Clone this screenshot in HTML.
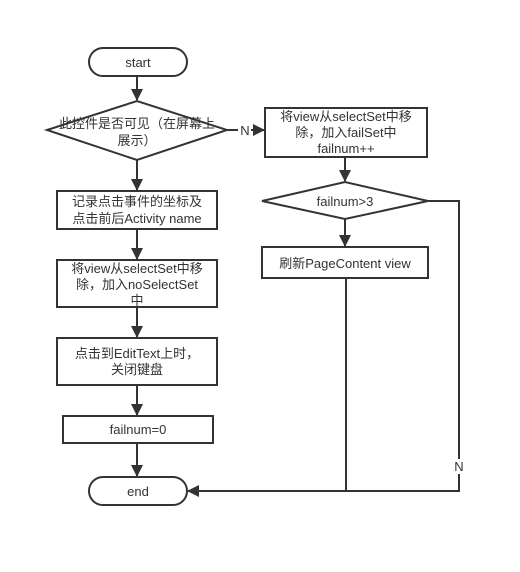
<!DOCTYPE html>
<html><head><meta charset="utf-8"><style>
body{margin:0;background:#fff}
svg text{font-family:"Liberation Sans","Noto Sans CJK SC",sans-serif;font-size:13px;fill:#333;text-anchor:middle}
</style></head><body>
<svg width="520" height="567" xmlns="http://www.w3.org/2000/svg">
<defs><marker id="a" markerWidth="12" markerHeight="12" refX="11" refY="6" orient="auto" markerUnits="userSpaceOnUse"><path d="M0,0 L12,6 L0,12 z" fill="#333"/></marker></defs>
<g stroke="#333" stroke-width="2" fill="#fff">
<rect x="89" y="48" width="98" height="28" rx="14"/>
<polygon points="47,130 137,101 227,130 137,160"/>
<rect x="57" y="191" width="160" height="38"/>
<rect x="57" y="260" width="160" height="47"/>
<rect x="57" y="338" width="160" height="47"/>
<rect x="63" y="416" width="150" height="27"/>
<rect x="89" y="477" width="98" height="28" rx="14"/>
<rect x="265" y="108" width="162" height="49"/>
<polygon points="262,201 345,182 428,201 345,219"/>
<rect x="262" y="247" width="166" height="31"/>
</g>
<g stroke="#333" stroke-width="2" fill="none" marker-end="url(#a)">
<line x1="137" y1="76" x2="137" y2="100"/>
<line x1="137" y1="160" x2="137" y2="190"/>
<line x1="137" y1="229" x2="137" y2="259"/>
<line x1="137" y1="307" x2="137" y2="337"/>
<line x1="137" y1="385" x2="137" y2="415"/>
<line x1="137" y1="443" x2="137" y2="476"/>
<line x1="345" y1="157" x2="345" y2="181"/>
<line x1="345" y1="219" x2="345" y2="246"/>
<polyline points="227,130 264,130"/>
<polyline points="428,201 459,201 459,491 188,491"/>
<polyline points="346,278 346,491" marker-end="none"/>
</g>
<rect x="238" y="123" width="13" height="15" fill="#fff"/>
<text x="245" y="135">N</text>
<rect x="452" y="459" width="14" height="15" fill="#fff"/>
<text x="459" y="471">N</text>
<text x="138" y="67">start</text>
<text x="137" y="128">此控件是否可见（在屏幕上</text>
<text x="137" y="145">展示）</text>
<text x="137" y="206">记录点击事件的坐标及</text>
<text x="137" y="223">点击前后Activity name</text>
<text x="137" y="273">将view从selectSet中移</text>
<text x="137" y="289">除，加入noSelectSet</text>
<text x="137" y="305">中</text>
<text x="137" y="358">点击到EditText上时，</text>
<text x="137" y="374">关闭键盘</text>
<text x="138" y="434">failnum=0</text>
<text x="138" y="496">end</text>
<text x="346" y="121">将view从selectSet中移</text>
<text x="346" y="137">除，加入failSet中</text>
<text x="346" y="153">failnum++</text>
<text x="345" y="206">failnum&gt;3</text>
<text x="345" y="268">刷新PageContent view</text>
</svg>
</body></html>
